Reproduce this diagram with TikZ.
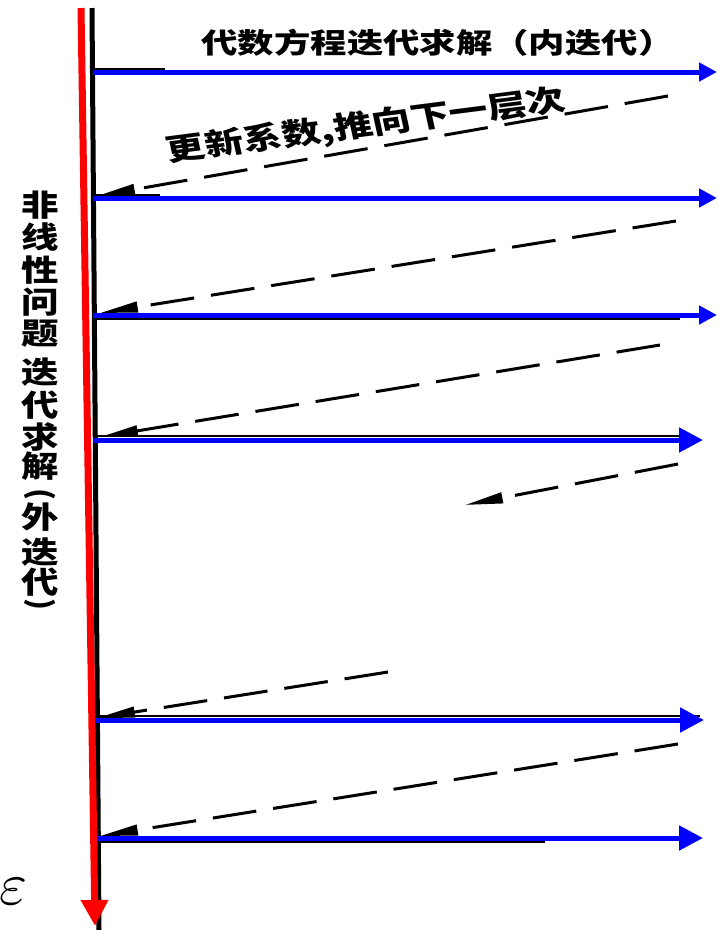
\documentclass[tikz,border=0pt]{standalone}
\usepackage{fontspec}
\newfontfamily\cjk{Noto Sans CJK SC}
\usetikzlibrary{arrows.meta}
\definecolor{pureblue}{RGB}{0,0,255}
\definecolor{purered}{RGB}{255,0,0}
\tikzset{
  bluearrow/.style={draw=pureblue, line width=5pt, -{Triangle[length=18pt,width=18pt]}},
  bluearrowbig/.style={draw=pureblue, line width=5pt, -{Triangle[length=24pt,width=24pt]}},
  backline/.style={draw=black, line width=1.6pt},
  feedback/.style={draw=black, line width=3pt, dash pattern=on 44pt off 17pt,
    -{Triangle[length=38pt,width=10.5pt]}},
  toplabel/.style={font=\cjk\bfseries\fontsize{28}{28}\selectfont, inner sep=0pt, xscale=1.3},
  slantlabel/.style={font=\cjk\bfseries\fontsize{30}{30}\selectfont, inner sep=0pt, xscale=1.3, rotate=9.5},
  vchar/.style={font=\cjk\bfseries\fontsize{30}{30}\selectfont, inner sep=0pt, xscale=1.25},
  vparen/.style={font=\cjk\bfseries\fontsize{30}{30}\selectfont, inner sep=0pt, rotate=-90},
}
\begin{document}
\begin{tikzpicture}[x=1pt,y=-1pt]
\useasboundingbox (0,0) rectangle (718,930);
\fill[white] (0,0) rectangle (718,930);

% axis endpoints
\coordinate (btop) at (92,8);
\coordinate (bbot) at (99,930);
\coordinate (rtop) at (81,8);
\coordinate (rbot) at (95,926);

% blue row start / end points
\coordinate (L1) at (93,72);   \coordinate (R1) at (717,72);
\coordinate (L2) at (93,198);  \coordinate (R2) at (717,198);
\coordinate (L3) at (93,315);  \coordinate (R3) at (717,315);
\coordinate (L4) at (93,440);  \coordinate (R4) at (703,440);
\coordinate (L5) at (93,720);  \coordinate (R5) at (704,720);
\coordinate (L6) at (93,838);  \coordinate (R6) at (703,838);

% underlying black scan lines
\draw[backline] (95,69) -- (165,69);
\draw[backline] (95,195) -- (160,195);
\draw[backline] (95,319) -- (680,319);
\draw[backline] (95,436) -- (680,436);
\draw[backline] (95,716) -- (700,716);
\draw[backline] (95,842) -- (545,842);

% black vertical axis
\draw[black, line width=5pt] (btop) -- (bbot);

% feedback (dashed) arrows
\coordinate (S1) at (668,96);  \coordinate (E1) at (97,196);
\coordinate (S2) at (676,221); \coordinate (E2) at (100,313);
\coordinate (S3) at (660,345); \coordinate (E3) at (100,437);
\coordinate (S4) at (678,464); \coordinate (E4) at (465,505);
\coordinate (S5) at (388,672); \coordinate (E5) at (97,718);
\coordinate (S6) at (678,744); \coordinate (E6) at (100,836);
\foreach \i in {1,...,6} {\draw[feedback] (S\i) -- (E\i);}

% blue inner-iteration arrows
\draw[bluearrow] (L1) -- (R1);
\draw[bluearrow] (L2) -- (R2);
\draw[bluearrow] (L3) -- (R3);
\draw[bluearrowbig] (L4) -- (R4);
\draw[bluearrowbig] (L5) -- (R5);
\draw[bluearrowbig] (L6) -- (R6);

% red outer-iteration arrow
\draw[purered, line width=7pt, -{Triangle[length=26pt,width=26pt]}] (rtop) -- (rbot);

% labels
\node[toplabel] (inner) at (438,43) {代数方程迭代求解（内迭代）};
\node[slantlabel] (update) at (366,126) {更新系数,推向下一层次};

\foreach \c/\y [count=\k] in {非/205,线/237,性/270,问/302,题/334,迭/372,代/405,求/437,解/466,外/517,迭/552,代/582}
  {\node[vchar] (v\k) at (40,\y) {\c};}
\node[vparen] (vpl) at (40,494) {(};
\node[vparen] (vpr) at (40,604) {)};

\node[inner sep=0pt, scale=6] (eps) at (13,892) {$\varepsilon$};
\end{tikzpicture}
\end{document}
